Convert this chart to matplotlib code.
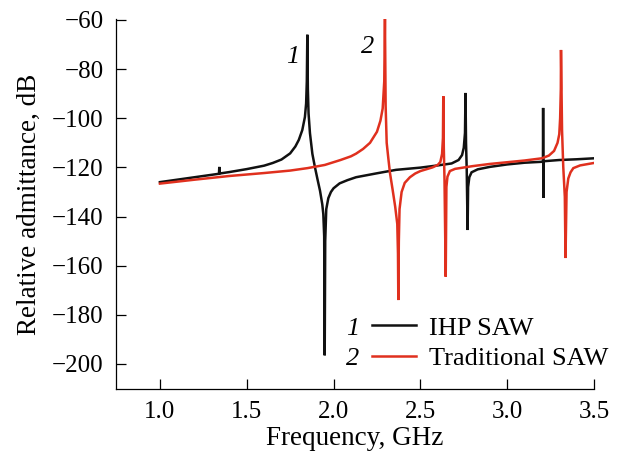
import matplotlib
matplotlib.use("Agg")
import matplotlib.pyplot as plt

# ---------- data ----------
ihp_freq = [1.00, 1.10, 1.20, 1.30, 1.340, 1.342, 1.344, 1.40, 1.50, 1.60,
            1.65, 1.70, 1.75, 1.78, 1.80, 1.82, 1.835, 1.842, 1.846, 1.849,
            1.852, 1.856, 1.864, 1.878, 1.893, 1.908, 1.922, 1.935, 1.941, 1.946,
            1.949, 1.952, 1.958, 1.970, 1.985, 2.00, 2.035, 2.08, 2.13, 2.25,
            2.36, 2.50, 2.60, 2.68, 2.72, 2.740, 2.750, 2.757, 2.760, 2.763,
            2.767, 2.772, 2.775, 2.782, 2.795, 2.83, 2.90, 3.00, 3.10, 3.206,
            3.207, 3.209, 3.210, 3.30, 3.40, 3.50]
ihp_db = [-126.0, -125.0, -124.0, -123.0, -122.6, -119.8, -122.5, -121.9, -120.7, -119.3,
          -118.2, -116.8, -114.3, -111.5, -108.8, -104.8, -99.5, -94.0, -85.0, -66.0,
          -88.0, -98.0, -106.0, -114.5, -120.0, -125.0, -129.5, -135.0, -139.0, -148.0,
          -196.5, -150.0, -137.0, -132.5, -130.0, -128.5, -126.5, -125.2, -124.0, -122.4,
          -121.0, -120.1, -119.2, -118.4, -117.0, -115.0, -112.0, -106.0, -89.7, -110.0,
          -121.0, -145.5, -128.0, -124.0, -122.0, -120.8, -119.8, -118.8, -118.1, -117.7,
          -95.8, -132.4, -117.5, -117.0, -116.7, -116.3]

trad_freq = [1.00, 1.20, 1.40, 1.60, 1.75, 1.85, 1.95, 2.04, 2.10, 2.13,
             2.17, 2.21, 2.25, 2.27, 2.283, 2.292, 2.296, 2.300, 2.306, 2.315,
             2.325, 2.340, 2.355, 2.367, 2.371, 2.373, 2.376, 2.380, 2.392, 2.410,
             2.440, 2.47, 2.50, 2.57, 2.60, 2.615, 2.625, 2.630, 2.632, 2.635,
             2.639, 2.646, 2.650, 2.656, 2.67, 2.70, 2.80, 2.90, 3.00, 3.10,
             3.20, 3.24, 3.27, 3.29, 3.30, 3.305, 3.309, 3.310, 3.316, 3.323,
             3.332, 3.336, 3.342, 3.352, 3.365, 3.381, 3.42, 3.50]
trad_db = [-126.6, -125.0, -123.5, -122.3, -121.3, -120.3, -119.0, -117.0, -115.5, -114.4,
           -112.5, -110.0, -105.5, -101.0, -96.0, -85.0, -59.5, -95.0, -110.0, -116.0,
           -122.3, -129.0, -136.0, -143.0, -155.0, -174.0, -150.0, -137.0, -130.0, -126.3,
           -124.0, -122.5, -121.5, -120.0, -119.0, -117.8, -114.5, -108.0, -91.0, -112.0,
           -125.0, -164.5, -128.0, -123.8, -121.5, -120.6, -119.5, -118.6, -117.9, -117.2,
           -116.3, -115.2, -113.3, -110.0, -106.5, -100.0, -88.0, -72.2, -105.0, -119.8,
           -132.0, -156.9, -130.0, -124.5, -122.0, -120.3, -119.2, -118.2]

labels = ["IHP SAW", "Traditional SAW"]
numbers = ["1", "2"]
colors = ["#111111", "#e0301e"]

x_ticks = [1.0, 1.5, 2.0, 2.5, 3.0, 3.5]
y_ticks = [-200, -180, -160, -140, -120, -100, -80, -60]

plt.rcParams['font.family'] = ['Liberation Serif', 'DejaVu Serif']
plt.rcParams['font.size'] = 19
plt.rcParams['axes.unicode_minus'] = True

fig = plt.figure(figsize=(6.19, 4.61), dpi=100)
ax = fig.add_axes([0.1874, 0.1562, 0.7722, 0.8026])

l1, = ax.plot(ihp_freq, ihp_db, color=colors[0], lw=1.8, solid_joinstyle='miter')
l2, = ax.plot(trad_freq, trad_db, color=colors[1], lw=1.8, solid_joinstyle='miter')

ax.set_xlim(0.747, 3.5)
ax.set_ylim(-210.2, -59.6)
ax.set_xticks(x_ticks)
ax.set_xticklabels([f"{t:.1f}" for t in x_ticks])
ax.set_yticks(y_ticks)
ax.tick_params(direction='in', length=7, width=0.9, pad=9, labelsize=18)
for s in ['top', 'right']:
    ax.spines[s].set_visible(False)
for s in ['left', 'bottom']:
    ax.spines[s].set_linewidth(0.9)

ax.set_xlabel("Frequency, GHz", fontsize=19.5, labelpad=2)
ax.set_ylabel("Relative admittance, dB", fontsize=19.5, labelpad=7)

# curve numbers
ax.text(1.766, -75, numbers[0], style='italic', ha='center', va='center')
ax.text(2.198, -71, numbers[1], style='italic', ha='center', va='center')

# legend with italic numbers in front
leg = ax.legend([l1, l2], labels, loc='upper left', bbox_to_anchor=(0.536, 0.197),
                frameon=False, borderpad=0, borderaxespad=0, handlelength=1.65,
                handletextpad=0.5, labelspacing=0.27, fontsize=19)
ax.text(0.496, 0.163, numbers[0], transform=ax.transAxes, style='italic', ha='center', va='center')
ax.text(0.496, 0.082, numbers[1], transform=ax.transAxes, style='italic', ha='center', va='center')

fig.savefig("out.png", dpi=100)
